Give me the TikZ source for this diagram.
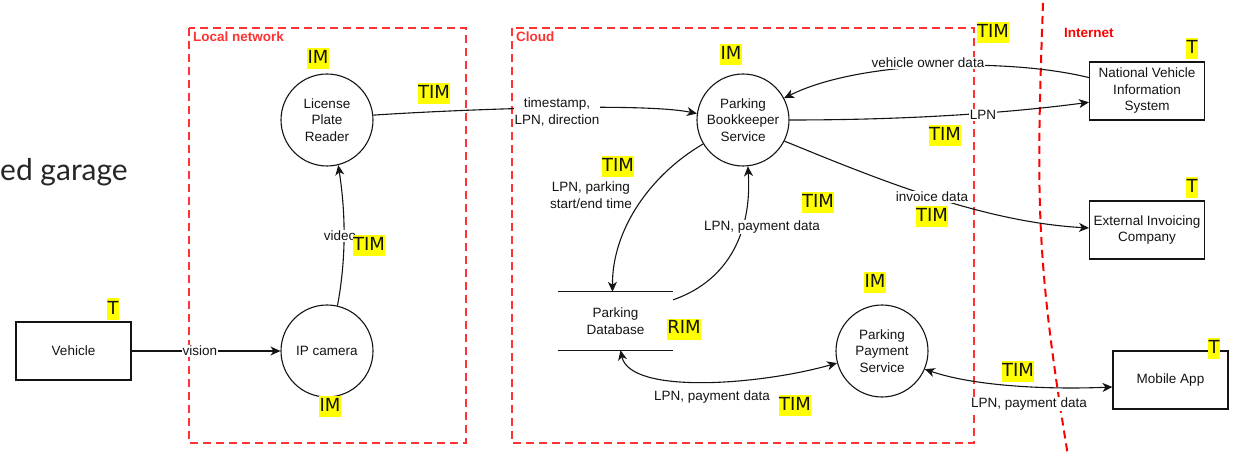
\documentclass[tikz,border=0pt]{standalone}
\usepackage{fontspec}
\setmainfont{Liberation Sans}
\newfontfamily\tagfam{DejaVu Sans}
\newfontfamily\titlefam{Lato}
\usetikzlibrary{arrows.meta}

\definecolor{zonered}{RGB}{255,51,51}
\definecolor{netred}{RGB}{255,0,0}
\definecolor{hilite}{RGB}{255,255,0}
\definecolor{ink}{RGB}{20,20,20}

\newcommand\labfont{\fontsize{13.5}{16.5}\selectfont}
\newcommand\tagfont{\tagfam\fontsize{18}{21}\selectfont}

\begin{document}
\begin{tikzpicture}[x=1pt,y=-1pt,
  proc/.style={circle, draw=ink, fill=white, line width=1.1pt, minimum size=92pt,
    inner sep=0pt, align=center, font=\labfont, text=ink},
  ext/.style={rectangle, draw=ink, fill=white, line width=1.1pt, minimum width=115pt,
    minimum height=58pt, inner sep=0pt, align=center, font=\labfont, text=ink},
  store/.style={minimum width=115pt, minimum height=58pt, inner sep=0pt,
    align=center, font=\labfont, text=ink},
  lbl/.style={font=\labfont, text=ink, fill=white, inner sep=1pt, align=center},
  plainlbl/.style={font=\labfont, text=ink, inner sep=1pt, align=center},
  tag/.style={fill=hilite, font=\tagfont, text=ink, inner xsep=0.5pt, inner ysep=0pt,
    text height=15.5pt, text depth=5.5pt},
  zone/.style={draw=zonered, line width=2pt, dash pattern=on 8pt off 5pt},
  zonelabel/.style={font=\labfont\bfseries, text=zonered, anchor=base west, inner sep=0pt},
  netline/.style={draw=netred, line width=2pt, dash pattern=on 8pt off 5pt},
  arr/.style={draw=ink, line width=1.1pt, -{Stealth[length=10pt, width=9pt, inset=3pt]}},
  arrboth/.style={draw=ink, line width=1.1pt,
    {Stealth[length=10pt, width=9pt, inset=3pt]}-{Stealth[length=10pt, width=9pt, inset=3pt]}}
]
\useasboundingbox (0,0) rectangle (1234,454);

% slide heading fragment
\node[font=\titlefam\fontsize{30}{36}\selectfont, text=black!85, anchor=base east, inner sep=0pt]
  (heading) at (128,181) {ed garage};

% trust zones
\draw[zone] (189,28) rectangle (466,443);
\draw[zone] (512,28) rectangle (974,443);
\node[zonelabel] (lnet) at (193,42) {Local network};
\node[zonelabel] (cloud) at (516,42) {Cloud};
\draw[netline] (1043,3) .. controls (1036,200) and (1036,260) .. (1068,456);
\node[zonelabel, text=netred] (inet) at (1064,38) {Internet};

% processes
\node[proc] (lpr) at (327,120) {License\\Plate\\Reader};
\node[proc] (cam) at (327,351) {IP camera};
\node[proc] (pbs) at (743,120) {Parking\\Bookkeeper\\Service};
\node[proc] (pps) at (882,351) {Parking\\Payment\\Service};

% external entities
\node[ext] (veh) at (73.5,351) {Vehicle};
\node[ext] (nvis) at (1147,91) {National Vehicle\\Information\\System};
\node[ext] (eic) at (1147,230) {External Invoicing\\Company};
\node[ext] (app) at (1170.5,380) {Mobile App};

% data store
\node[store] (db) at (615.5,321) {Parking\\Database};
\draw[draw=ink, line width=1.1pt] (db.north west) -- (db.north east)
  (db.south west) -- (db.south east);

% data flows
\draw[arr] (veh.east) -- (cam.west);
\draw[arr] (cam.77) .. controls (346,260) and (346,215) .. (lpr.-76);
\draw[arr] (lpr.6) .. controls (450,110) and (640,102) .. (pbs.172);
\draw[arr] (nvis.167) .. controls (1010,58) and (860,60) .. (pbs.28);
\draw[arr] (pbs.east) .. controls (900,120) and (1000,114) .. (nvis.191);
\draw[arr] (pbs.-27) .. controls (870,176) and (980,222) .. (eic.178);
\draw[arr] (pbs.-149) .. controls (650,175) and (612,230) .. ([xshift=-3pt]db.north);
\draw[arr] ([yshift=-8pt]db.north east) .. controls (730,280) and (752,230) .. (pbs.-84);
\draw[arrboth] ([xshift=5pt]db.south) .. controls (630,395) and (760,385) .. (pps.195);
\draw[arrboth] (pps.-23) .. controls (970,385) and (1040,390) .. ([yshift=-7pt]app.west);

% flow labels
\node[lbl] (lvision) at (200,351) {vision};
\node[lbl] (lvideo) at (340,236) {video};
\node[lbl] (lts) at (557,112) {timestamp,\\LPN, direction};
\node[lbl] (lowner) at (928,63) {vehicle owner data};
\node[lbl] (llpn) at (983,115) {LPN};
\node[lbl] (linv) at (932,197) {invoice data};
\node[lbl] (lpark) at (591,195) {LPN, parking\\start/end time};
\node[lbl] (lpay1) at (762,227) {LPN, payment data};
\node[plainlbl] (lpay2) at (712,397) {LPN, payment data};
\node[lbl] (lpay3) at (1029,404) {LPN, payment data};

% threat tags
\node[tag] (t1) at (434,94) {TIM};
\node[tag] (t2) at (369,246) {TIM};
\node[tag] (t3) at (618,167) {TIM};
\node[tag] (t4) at (818,203) {TIM};
\node[tag] (t5) at (945,136) {TIM};
\node[tag] (t6) at (932,217) {TIM};
\node[tag] (t7) at (993,33) {TIM};
\node[tag] (t8) at (795,405) {TIM};
\node[tag] (t9) at (1018,371) {TIM};
\node[tag] (r1) at (684,329) {RIM};
\node[tag] (i1) at (318,59) {IM};
\node[tag] (i2) at (731,55) {IM};
\node[tag] (i3) at (875,283) {IM};
\node[tag] (i4) at (330,406) {IM};
\node[tag] (e1) at (113,309) {T};
\node[tag] (e2) at (1192,49) {T};
\node[tag] (e3) at (1192,188) {T};
\node[tag] (e4) at (1214,348) {T};
\end{tikzpicture}
\end{document}
